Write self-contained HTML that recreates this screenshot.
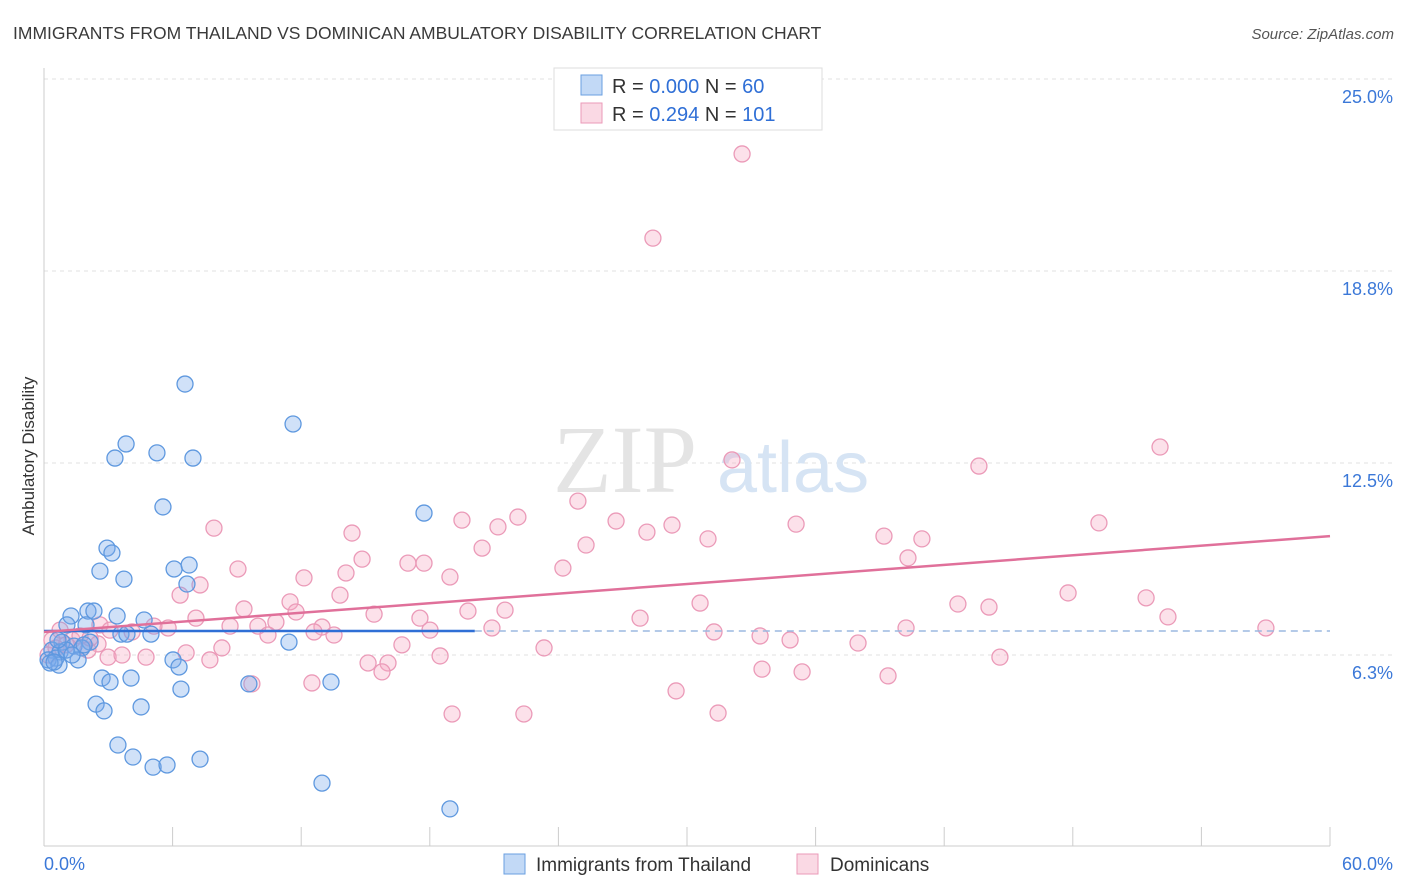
<!DOCTYPE html>
<html><head><meta charset="utf-8"><style>
body{margin:0;background:#fff;font-family:"Liberation Sans",sans-serif}
svg{display:block}
</style></head><body>
<svg id="chart" width="1406" height="892" xmlns="http://www.w3.org/2000/svg" font-family="Liberation Sans, sans-serif">
<text x="13" y="39" font-size="17.5" fill="#3a3a3a">IMMIGRANTS FROM THAILAND VS DOMINICAN AMBULATORY DISABILITY CORRELATION CHART</text>
<text x="1394" y="39" font-size="15" fill="#555" text-anchor="end" font-style="italic">Source: ZipAtlas.com</text>
<g id="grid"></g>
<g>
<text x="553" y="492" font-size="96" font-family="Liberation Serif, serif" fill="#e4e4e4">ZIP</text>
<text x="717" y="492" font-size="72" fill="#d6e4f4">atlas</text>
</g>
<g id="axes"></g>
<g id="pink-points"></g>
<g id="blue-points"></g>
<g id="lines"></g>
<text transform="translate(34,456) rotate(-90)" font-size="17" fill="#333" text-anchor="middle">Ambulatory Disability</text>
<g>
<rect x="554" y="68" width="268" height="62" fill="#fff" stroke="#ddd"/>
<rect x="581" y="75" width="21" height="20" fill="rgba(120,170,235,0.45)" stroke="#6a9fe0"/>
<rect x="581" y="103" width="21" height="20" fill="rgba(245,170,195,0.45)" stroke="#eb9ab8"/>
<text x="612" y="93" font-size="20" fill="#333">R = <tspan fill="#2f6fd6">0.000</tspan>   N = <tspan fill="#2f6fd6"> 60</tspan></text>
<text x="612" y="121" font-size="20" fill="#333">R = <tspan fill="#2f6fd6"> 0.294</tspan>   N = <tspan fill="#2f6fd6">101</tspan></text>
</g>
<g>
<rect x="504" y="854" width="21" height="20" fill="rgba(120,170,235,0.45)" stroke="#6a9fe0"/>
<text x="536" y="871" font-size="19" fill="#333">Immigrants from Thailand</text>
<rect x="797" y="854" width="21" height="20" fill="rgba(245,170,195,0.45)" stroke="#eb9ab8"/>
<text x="830" y="871" font-size="19" fill="#333">Dominicans</text>
</g>
</svg>
<script>
const yTicks=[6.25,12.5,18.75,25];
const yTickLabels=["6.3%","12.5%","18.8%","25.0%"];
const xTicks=[0,6,12,18,24,30,36,42,48,54,60];
const xLabels=["0.0%","60.0%"];
const blueX=[6.58,11.62,3.83,3.31,5.27,6.95,5.55,17.73,2.94,3.17,2.61,3.73,6.07,6.77,6.67,2.05,2.33,1.26,3.41,4.67,1.07,1.96,3.59,3.87,4.99,11.43,0.84,2.15,1.40,1.77,0.37,0.75,0.56,0.19,1.59,0.70,6.02,6.30,2.71,3.08,4.06,6.39,9.56,13.39,2.43,2.80,4.53,3.45,4.15,5.09,5.74,7.28,12.97,18.94,0.28,0.47,1.03,1.31,1.87,0.65];
const blueY=[15.07,13.77,13.12,12.66,12.83,12.66,11.07,10.87,9.73,9.57,8.98,8.72,9.05,9.18,8.56,7.68,7.68,7.52,7.52,7.39,7.23,7.23,6.93,6.93,6.93,6.67,6.67,6.67,6.54,6.48,6.41,6.35,6.15,6.09,6.09,5.92,6.09,5.86,5.50,5.37,5.50,5.14,5.31,5.37,4.65,4.43,4.56,3.32,2.93,2.60,2.67,2.86,2.08,1.24,5.99,6.02,6.41,6.25,6.58,6.74];
const pinkX=[32.57,28.41,52.07,32.10,43.62,24.91,19.50,22.11,26.69,29.30,35.09,49.22,7.93,14.37,21.18,28.13,39.19,40.96,30.98,25.29,20.44,14.84,40.31,9.05,16.98,17.73,24.21,14.09,18.94,12.13,7.28,6.35,13.81,47.78,51.42,30.61,9.33,11.48,42.64,44.09,15.40,11.76,7.09,19.78,21.51,17.54,10.82,27.81,52.44,8.68,9.98,12.97,20.90,18.01,5.79,5.13,57.01,40.22,31.26,10.45,13.53,12.60,33.41,34.81,37.98,16.70,8.30,6.63,23.33,18.48,4.76,2.99,3.64,2.52,1.31,1.68,44.60,7.74,15.12,16.05,33.50,35.37,15.77,39.38,9.70,12.50,29.49,19.04,22.39,31.45,0.75,1.03,0.37,2.05,4.11,2.61,0.19,0.56,2.15,3.08];
const pinkY=[22.56,19.82,13.02,12.60,12.40,11.26,10.64,10.74,10.61,10.48,10.51,10.55,10.38,10.22,10.42,10.25,10.12,10.03,10.03,9.83,9.73,9.37,9.41,9.05,9.24,9.24,9.08,8.92,8.79,8.76,8.53,8.20,8.20,8.27,8.11,7.94,7.75,7.98,7.91,7.81,7.58,7.65,7.45,7.68,7.71,7.45,7.32,7.45,7.49,7.19,7.19,7.16,7.13,7.06,7.13,7.19,7.13,7.13,7.00,6.90,6.90,7.00,6.87,6.74,6.64,6.58,6.48,6.32,6.48,6.22,6.18,6.18,6.25,6.61,6.74,6.87,6.18,6.09,5.99,5.99,5.79,5.70,5.70,5.57,5.31,5.34,5.08,4.33,4.33,4.36,7.06,6.58,6.74,6.41,7.00,7.23,6.25,6.48,6.80,7.06];
const blueTrend=[7.03,7.03];
const blueTrendEnd=20.1;
const pinkTrend=[7.0,10.12];
const NS="http://www.w3.org/2000/svg";
const X0=44,X1=1330,Y0=847,PXPER=30.72;
function sx(v){return X0+(v/60)*(X1-X0);}
function sy(v){return Y0-v*PXPER;}
function mk(t,a,p){const e=document.createElementNS(NS,t);for(const k in a)e.setAttribute(k,a[k]);p.appendChild(e);return e;}
const grid=document.getElementById('grid');
mk('line',{x1:X0,x2:1394,y1:sy(25),y2:sy(25),stroke:'#e2e2e2','stroke-dasharray':'4,4'},grid);
yTicks.forEach((t,i)=>{
 const l=mk('line',{x1:X0,x2:1394,y1:sy(t),y2:sy(t),stroke:'#e2e2e2','stroke-dasharray':'4,4'},grid);
 
 
 const tx=mk('text',{x:1393,y:sy(t)+24,'font-size':18,fill:'#3b78d8','text-anchor':'end'},grid);
 tx.textContent=yTickLabels[i];
 
 
});
const axes=document.getElementById('axes');
mk('line',{x1:X0,x2:X0,y1:68,y2:846,stroke:'#ccc'},axes);
mk('line',{x1:X0,x2:X1,y1:846,y2:846,stroke:'#ccc'},axes);
xTicks.forEach(t=>{
 const l=mk('line',{x1:sx(t),x2:sx(t),y1:827,y2:846,stroke:'#ccc'},axes);
 
 
});
const xl0=mk('text',{x:44,y:870,'font-size':18,fill:'#3b78d8'},axes);xl0.textContent=xLabels[0];


const xl1=mk('text',{x:1393,y:870,'font-size':18,fill:'#3b78d8','text-anchor':'end'},axes);xl1.textContent=xLabels[1];


const pg=document.getElementById('pink-points');
pinkX.forEach((x,i)=>{const c=mk('circle',{cx:sx(x),cy:sy(pinkY[i]),r:8,fill:'rgba(245,170,195,0.35)',stroke:'#eb9ab8','stroke-width':1.3},pg);
 
 });
const bg=document.getElementById('blue-points');
blueX.forEach((x,i)=>{const c=mk('circle',{cx:sx(x),cy:sy(blueY[i]),r:8,fill:'rgba(120,170,235,0.35)',stroke:'#5e98df','stroke-width':1.3},bg);
 
 });
const lg=document.getElementById('lines');
const bl=mk('line',{x1:sx(0),x2:sx(blueTrendEnd),y1:sy(blueTrend[0]),y2:sy(blueTrend[0]+(blueTrend[1]-blueTrend[0])*blueTrendEnd/60),stroke:'#2f6fd6','stroke-width':2.5},lg);


const bd=mk('line',{x1:sx(blueTrendEnd),x2:sx(60),y1:sy(blueTrend[0]),y2:sy(blueTrend[1]),stroke:'#9bb8e0','stroke-width':1.5,'stroke-dasharray':'7,5'},lg);


const pl=mk('line',{x1:sx(0),x2:sx(60),y1:sy(pinkTrend[0]),y2:sy(pinkTrend[1]),stroke:'#e0709a','stroke-width':2.5},lg);


</script>
</body></html>
